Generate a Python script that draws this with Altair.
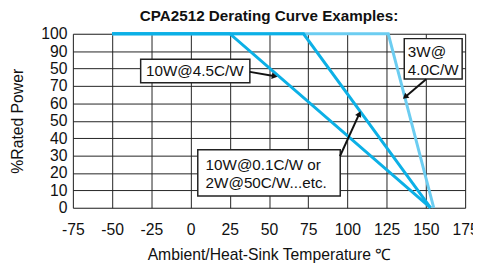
import altair as alt
import pandas as pd
import json
import math

# ---- data ----
x_ticks = [-75, -50, -25, 0, 25, 50, 75, 100, 125, 150, 175]
y_ticks = [0, 10, 20, 30, 40, 50, 60, 70, 80, 90, 100]
y_tick_labels = ["0", "10", "20", "30", "40", "50", "60", "70", "50", "90", "100"]

# derating curves (temperature, % rated power)
curveA_x = [-50, 25, 153]      # knee at 25 C
curveA_y = [100, 100, 0]
curveB_x = [-50, 72, 153]      # knee at ~72 C
curveB_y = [100, 100, 0]
curveC_x = [-50, 126, 155]     # knee at ~126 C (light)
curveC_y = [100, 100, 0]

# annotation boxes (data coordinates)
box_x1 = [-31.8, 136.2, 4.6]
box_x2 = [37.8, 173.1, 95.4]
box_y1 = [71.8, 74.0, 6.8]
box_y2 = [85.3, 97.2, 33.3]

label_text = ["10W@4.5C/W", "3W@", "4.0C/W", "10W@0.1C/W or", "2W@50C/W...etc."]
label_x = [2.7, 138.5, 138.5, 9.6, 9.6]
label_y = [78.3, 89.5, 79.0, 24.3, 14.1]
label_align = ["center", "left", "left", "left", "left"]

arrow_x1 = [37.8, 150.1, 95.2]
arrow_y1 = [78.1, 73.8, 29.6]
arrow_x2 = [53.0, 137.2, 107.3]
arrow_y2 = [75.7, 64.0, 53.5]

W, H = 399, 177
XD = [-75, 175]
YD = [0, 100]

def curve_df(xs, ys):
    return pd.DataFrame({"t": xs, "p": ys, "o": list(range(len(xs)))})

xs = alt.Scale(domain=XD, nice=False, zero=False)
ys = alt.Scale(domain=YD, nice=False, zero=False)

y_label_expr = "indexof(%s, datum.value) >= 0 ? %s[indexof(%s, datum.value)] : ''" % (
    json.dumps(y_ticks), json.dumps(y_tick_labels), json.dumps(y_ticks))
x_label_expr = "'' + datum.value"

FONT = "Liberation Sans"

x_axis = alt.Axis(values=x_ticks, labelExpr=x_label_expr, title="Ambient/Heat-Sink Temperature ℃",
                  grid=True, gridColor="#222", gridWidth=1, gridOpacity=1, domain=False, ticks=False,
                  labelPadding=14, labelFontSize=16, labelFont=FONT, labelColor="#111",
                  titleFontSize=16, titleFont=FONT, titleFontWeight="normal", titleColor="#111",
                  titlePadding=10, labelFlush=False, labelOverlap=False)
y_axis = alt.Axis(values=y_ticks, labelExpr=y_label_expr, title="%Rated Power", grid=True,
                  gridColor="#222", gridWidth=1, gridOpacity=1, domain=False, ticks=False,
                  labelPadding=6, labelFontSize=16, labelFont=FONT, labelColor="#111",
                  titleFontSize=16, titleFont=FONT, titleFontWeight="normal", titleColor="#111",
                  titlePadding=16, labelOverlap=False, labelFlush=False)

def X(f):
    return alt.X(f, type="quantitative", scale=xs, axis=x_axis)

def Y(f):
    return alt.Y(f, type="quantitative", scale=ys, axis=y_axis)

lineC = alt.Chart(curve_df(curveC_x, curveC_y)).mark_line(color="#6ccdf1", strokeWidth=3).encode(
    x=X("t"), y=Y("p"), order="o:Q")
lineB = alt.Chart(curve_df(curveB_x, curveB_y)).mark_line(color="#0cb0e6", strokeWidth=3).encode(
    x=X("t"), y=Y("p"), order="o:Q")
lineA = alt.Chart(curve_df(curveA_x, curveA_y)).mark_line(color="#0cb0e6", strokeWidth=3).encode(
    x=X("t"), y=Y("p"), order="o:Q")

boxes = alt.Chart(pd.DataFrame({"x1": box_x1, "x2": box_x2, "y1": box_y1, "y2": box_y2})).mark_rect(
    fill="white", stroke="#222", strokeWidth=1.5).encode(
    x=X("x1"), x2="x2:Q", y=Y("y1"), y2="y2:Q")

lab_df = pd.DataFrame({"x": label_x, "y": label_y, "txt": label_text, "al": label_align})
texts = []
for al in ["center", "left"]:
    texts.append(alt.Chart(lab_df[lab_df["al"] == al]).mark_text(
        align=al, baseline="middle", font=FONT, fontSize=15.5, color="#111").encode(
        x=X("x"), y=Y("y"), text="txt:N"))

sx = W / (XD[1] - XD[0])
sy = H / (YD[1] - YD[0])
angles = []
for a, b, c, d in zip(arrow_x1, arrow_y1, arrow_x2, arrow_y2):
    dx = (c - a) * sx
    dy = -(d - b) * sy
    angles.append(math.degrees(math.atan2(dx, -dy)) % 360)

arr_df = pd.DataFrame({"x1": arrow_x1, "y1": arrow_y1, "x2": arrow_x2, "y2": arrow_y2, "ang": angles})
arr_lines = alt.Chart(arr_df).mark_rule(color="#111", strokeWidth=2).encode(
    x=X("x1"), y=Y("y1"), x2="x2:Q", y2="y2:Q")
arr_heads = alt.Chart(arr_df).mark_point(shape="triangle", filled=True, color="#111", size=45, opacity=1).encode(
    x=X("x2"), y=Y("y2"), angle=alt.Angle("ang:Q", scale=None))

chart = alt.layer(lineC, lineB, lineA, boxes, *texts, arr_lines, arr_heads).properties(
    width=W, height=H,
    title=alt.TitleParams("CPA2512 Derating Curve Examples:", font=FONT, fontSize=15.5,
                          fontWeight="bold", color="#111", offset=1, anchor="middle"),
    autosize=alt.AutoSizeParams(type="none"),
    padding={"left": 66, "top": 24, "right": 8, "bottom": 55},
).configure_view(stroke="#111", strokeWidth=1.5).configure(background="white")

chart.save("out.html", embed_options={"renderer": "svg", "actions": False})
